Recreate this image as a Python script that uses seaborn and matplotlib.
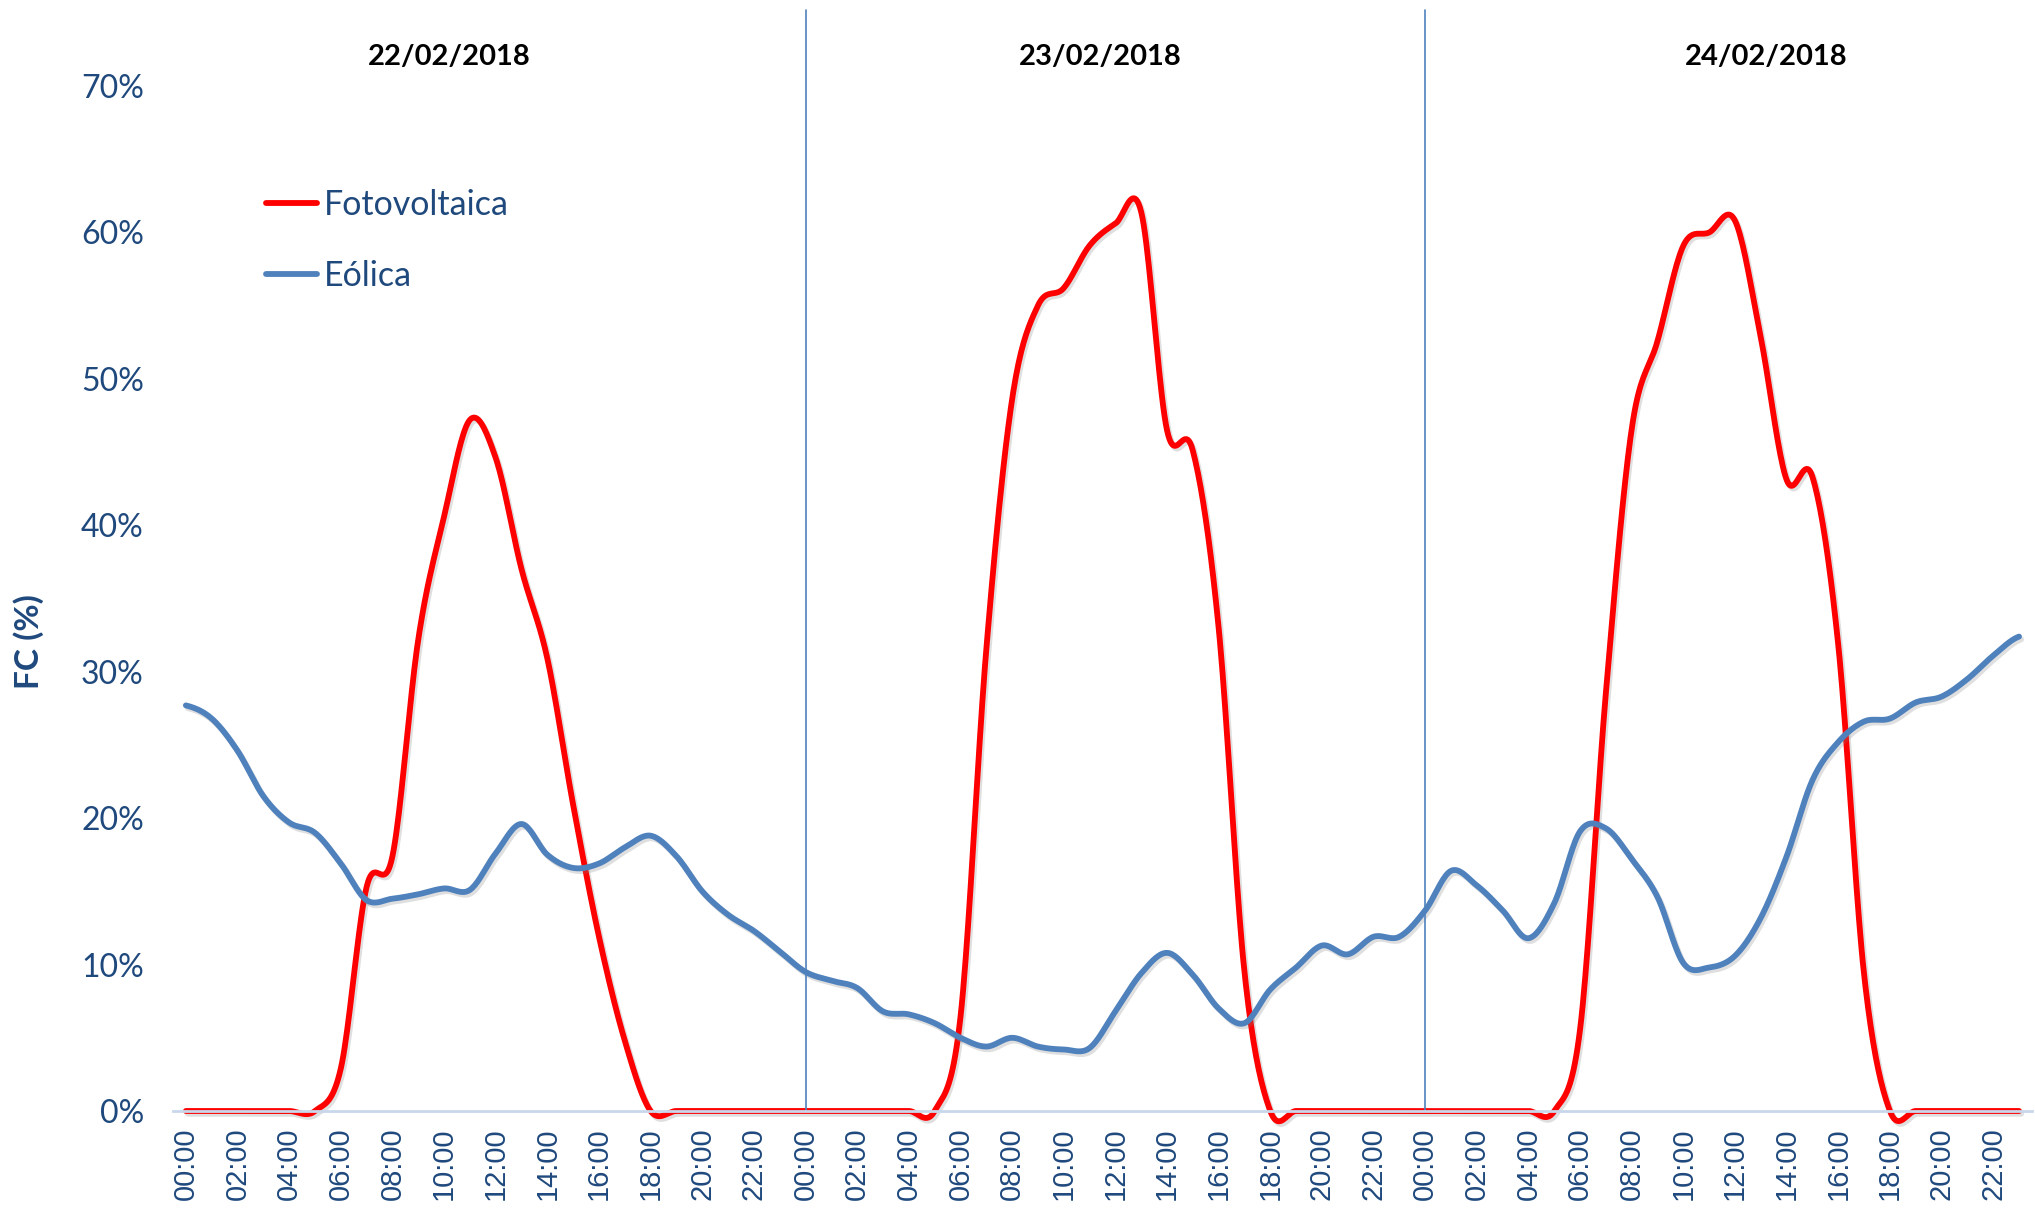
import numpy as np
import pandas as pd
import matplotlib
matplotlib.use("Agg")
import matplotlib.pyplot as plt
import matplotlib.patheffects as pe
import seaborn as sns

# hourly capacity factor (%), 22/02/2018 00:00 -> 24/02/2018 23:00
hours = ["00:00", "01:00", "02:00", "03:00", "04:00", "05:00", "06:00", "07:00",
         "08:00", "09:00", "10:00", "11:00", "12:00", "13:00", "14:00", "15:00",
         "16:00", "17:00", "18:00", "19:00", "20:00", "21:00", "22:00", "23:00"]
days = ["22/02/2018", "23/02/2018", "24/02/2018"]

fotovoltaica = [
    0, 0, 0, 0, 0, 0, 2.9, 15.3, 17.4, 32.2, 40.6, 47.2,
    44.6, 37.0, 30.9, 20.9, 11.9, 4.8, 0, 0, 0, 0, 0, 0,
    0, 0, 0, 0, 0, 0, 6.4, 31.5, 48.6, 55.0, 56.2, 59.1,
    60.6, 61.4, 46.5, 45.1, 33.0, 9.5, 0, 0, 0, 0, 0, 0,
    0, 0, 0, 0, 0, 0, 5.6, 28.6, 46.6, 52.6, 59.1, 60.0,
    60.8, 52.8, 43.1, 43.3, 31.8, 9.3, 0, 0, 0, 0, 0, 0,
]
eolica = [
    27.7, 26.8, 24.6, 21.5, 19.7, 19.0, 16.9, 14.4, 14.5, 14.8, 15.2, 15.1,
    17.6, 19.6, 17.5, 16.6, 16.9, 18.0, 18.8, 17.4, 15.0, 13.4, 12.3, 10.9,
    9.5, 8.9, 8.4, 6.8, 6.6, 6.0, 5.0, 4.4, 5.0, 4.4, 4.2, 4.3,
    6.8, 9.4, 10.8, 9.3, 7.0, 6.0, 8.3, 9.8, 11.3, 10.7, 11.9, 11.9,
    13.7, 16.4, 15.4, 13.7, 11.8, 14.2, 19.1, 19.3, 17.2, 14.6, 10.1, 9.8,
    10.6, 13.2, 17.4, 22.6, 25.2, 26.6, 26.8, 27.9, 28.3, 29.5, 31.1, 32.4,
]

TXT = "#1F497D"
RED = "#FF0000"
BLUE = "#4F81BD"
AXIS = "#C9D7EB"


def smooth(y, n=20):
    # excel style smoothed line (bezier through the points)
    y = np.asarray(y, float)
    p = np.concatenate([[y[0]], y, [y[-1]]])
    xs, ys = [], []
    t = np.linspace(0, 1, n, endpoint=False)
    for i in range(len(y) - 1):
        p0, p1 = p[i + 1], p[i + 2]
        c1 = p0 + (p[i + 2] - p[i]) / 6
        c2 = p1 - (p[i + 3] - p[i + 1]) / 6
        ys.append((1 - t) ** 3 * p0 + 3 * (1 - t) ** 2 * t * c1 + 3 * (1 - t) * t ** 2 * c2 + t ** 3 * p1)
        xs.append(i + t)
    xs.append([len(y) - 1])
    ys.append([y[-1]])
    return np.concatenate(xs), np.concatenate(ys)


sns.set_style("white")
plt.rcParams["font.family"] = ["Lato", "DejaVu Sans"]

fig = plt.figure(figsize=(20.35, 12.08), dpi=100)
ax = fig.add_axes([0.085, 0.0803, 0.9135, 0.8485])

shadow = [pe.SimpleLineShadow(offset=(1.5, -2), shadow_color="gray", alpha=0.25), pe.Normal()]
for name, vals, col in [("Fotovoltaica", fotovoltaica, RED), ("Eólica", eolica, BLUE)]:
    sx, sy = smooth(vals)
    df = pd.DataFrame({"x": sx, "y": sy})
    sns.lineplot(data=df, x="x", y="y", color=col, linewidth=4.2, estimator=None,
                 sort=False, label=name, ax=ax, clip_on=False, path_effects=shadow)

n = len(hours) * len(days)
for d in range(1, len(days)):
    ax.axvline(d * len(hours), ymin=0, ymax=1.074, color=BLUE, linewidth=1.2, clip_on=False)

ax.set_xlim(-0.5, n - 0.5)
ax.set_ylim(0, 70)
ax.set_yticks(range(0, 71, 10))
ax.set_yticklabels([f"{v}%" for v in range(0, 71, 10)])
ax.tick_params(axis="y", length=0, pad=21, labelsize=23, labelcolor=TXT)

xlab = hours * len(days)
ax.set_xticks(range(0, n, 2))
ax.set_xticklabels(xlab[::2], rotation=90, family="Liberation Sans")
ax.set_xticks(np.arange(-0.5, n, 1), minor=True)
ax.tick_params(axis="x", which="major", length=0, pad=12, labelsize=21, labelcolor=TXT)
ax.tick_params(axis="x", which="minor", length=14, width=1.5, color=AXIS, direction="out")
for lbl in ax.get_xticklabels():
    lbl.set_verticalalignment("top")

for s in ["top", "right", "left"]:
    ax.spines[s].set_visible(False)
ax.spines["bottom"].set_color(AXIS)
ax.spines["bottom"].set_linewidth(2)
ax.set_xlabel("")
ax.set_ylabel("")

day_x = [10.2, 35.4, 61.2]
for xp, d in zip(day_x, days):
    ax.text(xp, 1.028, d, transform=ax.get_xaxis_transform(), ha="center", va="center",
            fontsize=21, fontweight="bold", color="black")

fig.text(29 / 2035, 1 - 642 / 1208, "FC (%)", rotation=90, ha="center", va="center",
         fontsize=24, fontweight="bold", color=TXT)

leg = ax.legend(loc="upper left", bbox_to_anchor=(0.05, 0.9), frameon=False, fontsize=24.5,
                handlelength=1.5, handletextpad=0.2, labelspacing=1.15, borderpad=0,
                borderaxespad=0)
for t in leg.get_texts():
    t.set_color(TXT)
for h in leg.get_lines():
    h.set_linewidth(4.2)
    h.set_path_effects([])

fig.savefig("out.png", dpi=100)
